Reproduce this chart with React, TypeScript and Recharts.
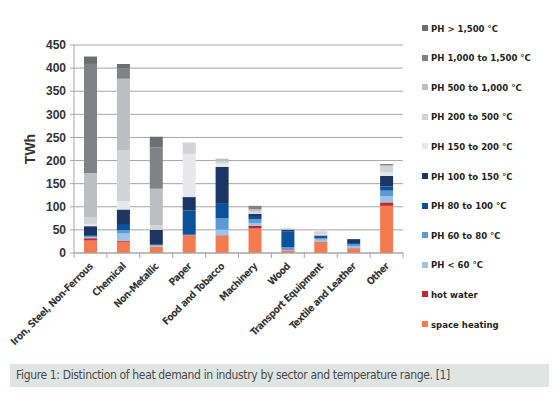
import { BarChart, Bar, XAxis, YAxis, CartesianGrid, Label } from 'recharts'

const categories = [
  'Iron, Steel, Non-Ferrous',
  'Chemical',
  'Non-Metallic',
  'Paper',
  'Food and Tobacco',
  'Machinery',
  'Wood',
  'Transport Equipment',
  'Textile and Leather',
  'Other'
]

// TWh per sector, stacked bottom to top
const spaceHeating = [27, 24.5, 13, 37.5, 36, 53, 6, 23, 10, 102]
const hotWater = [5, 1.5, 0.5, 1, 2, 6, 0, 1.5, 0.5, 7.5]
const phBelow60 = [2, 16, 2.5, 0.5, 12.5, 6, 0.5, 4.5, 4, 13]
const ph60to80 = [3, 8, 1, 0.5, 24.5, 8.5, 6.5, 3, 4, 12.5]
const ph80to100 = [2, 13, 1, 52.5, 33, 4.5, 34, 3, 3, 9]
const ph100to150 = [19, 31, 32, 29, 78, 7, 3.5, 3, 8.5, 23]
const ph150to200 = [5, 18, 0.5, 93.5, 8, 1.5, 1, 3, 0, 7]
const ph200to500 = [15, 111, 9.5, 24.5, 6, 4, 2, 4, 0, 13]
const ph500to1000 = [95, 154, 79, 0, 4, 4.5, 0, 1.5, 0, 3]
const ph1000to1500 = [236, 22, 89.5, 0, 0, 7, 0, 0, 0, 2.5]
const phAbove1500 = [16, 10, 23, 0, 0, 0, 0, 0, 0, 0]

const yTicks = [0, 50, 100, 150, 200, 250, 300, 350, 400, 450]

const series = [
  { key: 'sh', name: 'space heating', color: '#f47b4f', values: spaceHeating },
  { key: 'hw', name: 'hot water', color: '#c1272d', values: hotWater },
  { key: 'p60', name: 'PH < 60 °C', color: '#9dc3e7', values: phBelow60 },
  { key: 'p80', name: 'PH 60 to 80 °C', color: '#5b9bd5', values: ph60to80 },
  { key: 'p100', name: 'PH 80 to 100 °C', color: '#0b519c', values: ph80to100 },
  { key: 'p150', name: 'PH 100 to 150 °C', color: '#1b3564', values: ph100to150 },
  { key: 'p200', name: 'PH 150 to 200 °C', color: '#e7e8e9', values: ph150to200 },
  { key: 'p500', name: 'PH 200 to 500 °C', color: '#d2d3d5', values: ph200to500 },
  { key: 'p1000', name: 'PH 500 to 1,000 °C', color: '#bcbec0', values: ph500to1000 },
  { key: 'p1500', name: 'PH 1,000 to 1,500 °C', color: '#808285', values: ph1000to1500 },
  { key: 'pmax', name: 'PH > 1,500 °C', color: '#6d6e71', values: phAbove1500 }
]

const data = categories.map((name, i) => {
  const row: Record<string, string | number> = { name }
  series.forEach(s => { row[s.key] = s.values[i] })
  return row
})

const narrow = "'DejaVu Sans Condensed', Roboto, sans-serif"
const axisColor = '#a6a6a6'
const plotLeft = 74
const plotRight = 403
const band = (plotRight - plotLeft) / categories.length

function CategoryTick(props: any) {
  const { x, y, payload, index } = props
  const tx = x + 3
  const ty = y + 14
  return (
    <g>
      <line x1={x - band / 2} x2={x - band / 2} y1={y} y2={y + 5} stroke={axisColor} />
      {index === categories.length - 1 && (
        <line x1={x + band / 2} x2={x + band / 2} y1={y} y2={y + 5} stroke={axisColor} />
      )}
      <text
        x={tx}
        y={ty}
        transform={`rotate(-45, ${tx}, ${ty})`}
        textAnchor="end"
        fontSize={10}
        fontWeight="bold"
        fill="#333"
        fontFamily={narrow}
        style={{ letterSpacing: '-0.45px' }}
      >
        {payload.value}
      </text>
    </g>
  )
}

export default function App() {
  return (
    <div style={{ position: 'absolute', left: 0, top: 0, width: 555, height: 395, background: '#fff' }}>
      <BarChart
        width={555}
        height={360}
        data={data}
        margin={{ top: 45, right: 152, bottom: 7, left: 14 }}
        style={{ fontFamily: narrow }}
      >
        <CartesianGrid vertical={false} stroke={axisColor} />
        <XAxis
          dataKey="name"
          interval={0}
          height={100}
          tickLine={false}
          tickSize={0}
          tickMargin={0}
          axisLine={{ stroke: axisColor }}
          tick={<CategoryTick />}
        />
        <YAxis
          width={60}
          domain={[0, 450]}
          ticks={yTicks}
          tickSize={4}
          tickMargin={4}
          axisLine={{ stroke: axisColor }}
          tickLine={{ stroke: axisColor }}
          tick={{ fontSize: 12, fontWeight: 'bold', fill: '#333', fontFamily: 'Liberation Sans, Arial, sans-serif' }}
        >
          <Label
            value="TWh"
            angle={-90}
            position="insideLeft"
            offset={16}
            style={{ fontSize: 14, fontWeight: 'bold', fill: '#333', fontFamily: 'Liberation Sans, Arial, sans-serif', textAnchor: 'middle' }}
          />
        </YAxis>
        {series.map(s => (
          <Bar key={s.key} dataKey={s.key} name={s.name} stackId="a" fill={s.color} barSize={13} isAnimationActive={false} />
        ))}
      </BarChart>

      <div style={{ position: 'absolute', left: 422, top: 0 }}>
        {[...series].reverse().map((s, i) => (
          <div
            key={s.key}
            style={{
              position: 'absolute',
              top: 28 + i * 29.6 - 6,
              left: 0,
              height: 12,
              display: 'flex',
              alignItems: 'center',
              whiteSpace: 'nowrap',
              fontFamily: narrow,
              fontSize: 9.5,
              fontWeight: 'bold',
              color: '#231f20'
            }}
          >
            <span style={{ display: 'inline-block', width: 6, height: 6, background: s.color, marginRight: 3 }} />
            {s.name}
          </div>
        ))}
      </div>

      <div
        style={{
          position: 'absolute',
          left: 10,
          top: 364,
          width: 539,
          height: 23,
          lineHeight: '23px',
          background: '#dfe5e2',
          paddingLeft: 6,
          boxSizing: 'border-box',
          fontFamily: narrow,
          fontSize: 12,
          letterSpacing: '-0.35px',
          color: '#4a4a4a',
          whiteSpace: 'nowrap'
        }}
      >
        Figure 1: Distinction of heat demand in industry by sector and temperature range. [1]
      </div>
    </div>
  )
}
